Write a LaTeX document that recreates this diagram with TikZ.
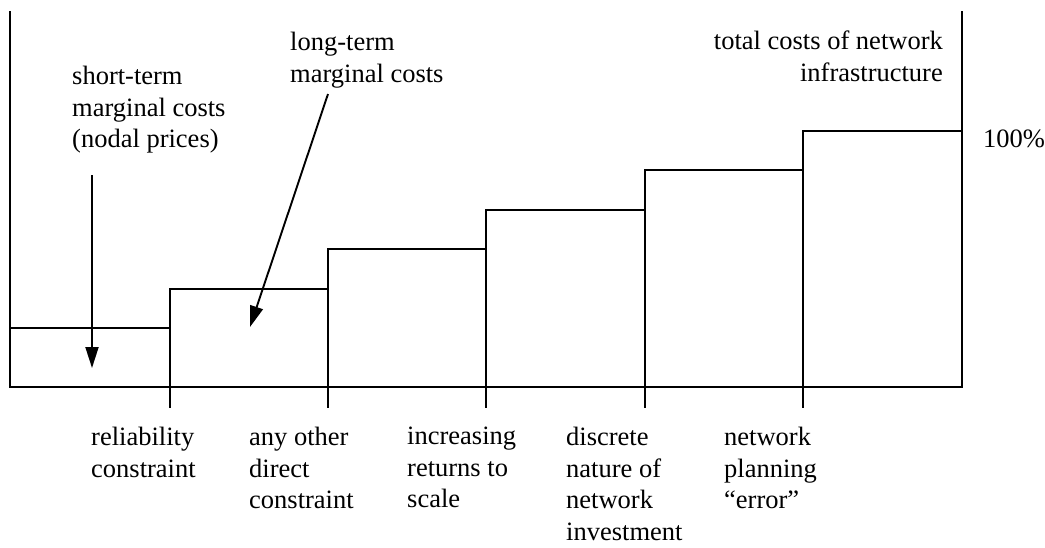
\documentclass[tikz,border=0pt]{standalone}
\usepackage{fontspec}
\setmainfont{Liberation Serif}
\usetikzlibrary{arrows.meta}

\tikzset{
  stair/.style={line width=1.9pt},
  cause/.style={anchor=north west, align=left, inner sep=0pt,
    font=\fontsize{26.5}{31.5}\selectfont},
  pointer/.style={line width=1.9pt, -{Triangle[length=21pt,width=13pt]}}
}

\begin{document}
\begin{tikzpicture}[x=1pt,y=-1pt]
\useasboundingbox (0,0) rectangle (1045,547);

% axes
\draw[stair] (10,11) -- (10,387) -- (962,387) -- (962,11);

% steps of cost
\draw[stair] (10,328) -- (170,328) -- (170,289) -- (328,289) -- (328,249)
  -- (486,249) -- (486,210) -- (645,210) -- (645,170) -- (803,170)
  -- (803,131) -- (962,131);
\foreach \x/\y in {170/289, 328/249, 486/210, 645/170, 803/131}
  \draw[stair] (\x,\y) -- (\x,408);

% labels above
\node[cause] (stmc) at (72,66) {short-term\\marginal costs\\(nodal prices)};
\node[cause] (lrmc) at (290,32) {long-term\\marginal costs};
\node[cause, anchor=north east, align=right] (total) at (943,31)
  {total costs of network\\infrastructure};
\node[cause] (full) at (983,130) {100\%};

\coordinate (stmctail) at (92,175);
\coordinate (stmchead) at (92,368);
\coordinate (lrmctail) at (328,94);
\coordinate (lrmchead) at (250,327);
\draw[pointer] (stmctail) -- (stmchead);
\draw[pointer] (lrmctail) -- (lrmchead);

% labels below
\node[cause] (reli) at (91,427) {reliability\\constraint};
\node[cause] (other) at (249,427) {any other\\direct\\constraint};
\node[cause] (scale) at (407,427) {increasing\\returns to\\scale};
\node[cause] (discrete) at (566,427) {discrete\\nature of\\network\\investment};
\node[cause] (plan) at (724,427) {network\\planning\\``error''};
\end{tikzpicture}
\end{document}
